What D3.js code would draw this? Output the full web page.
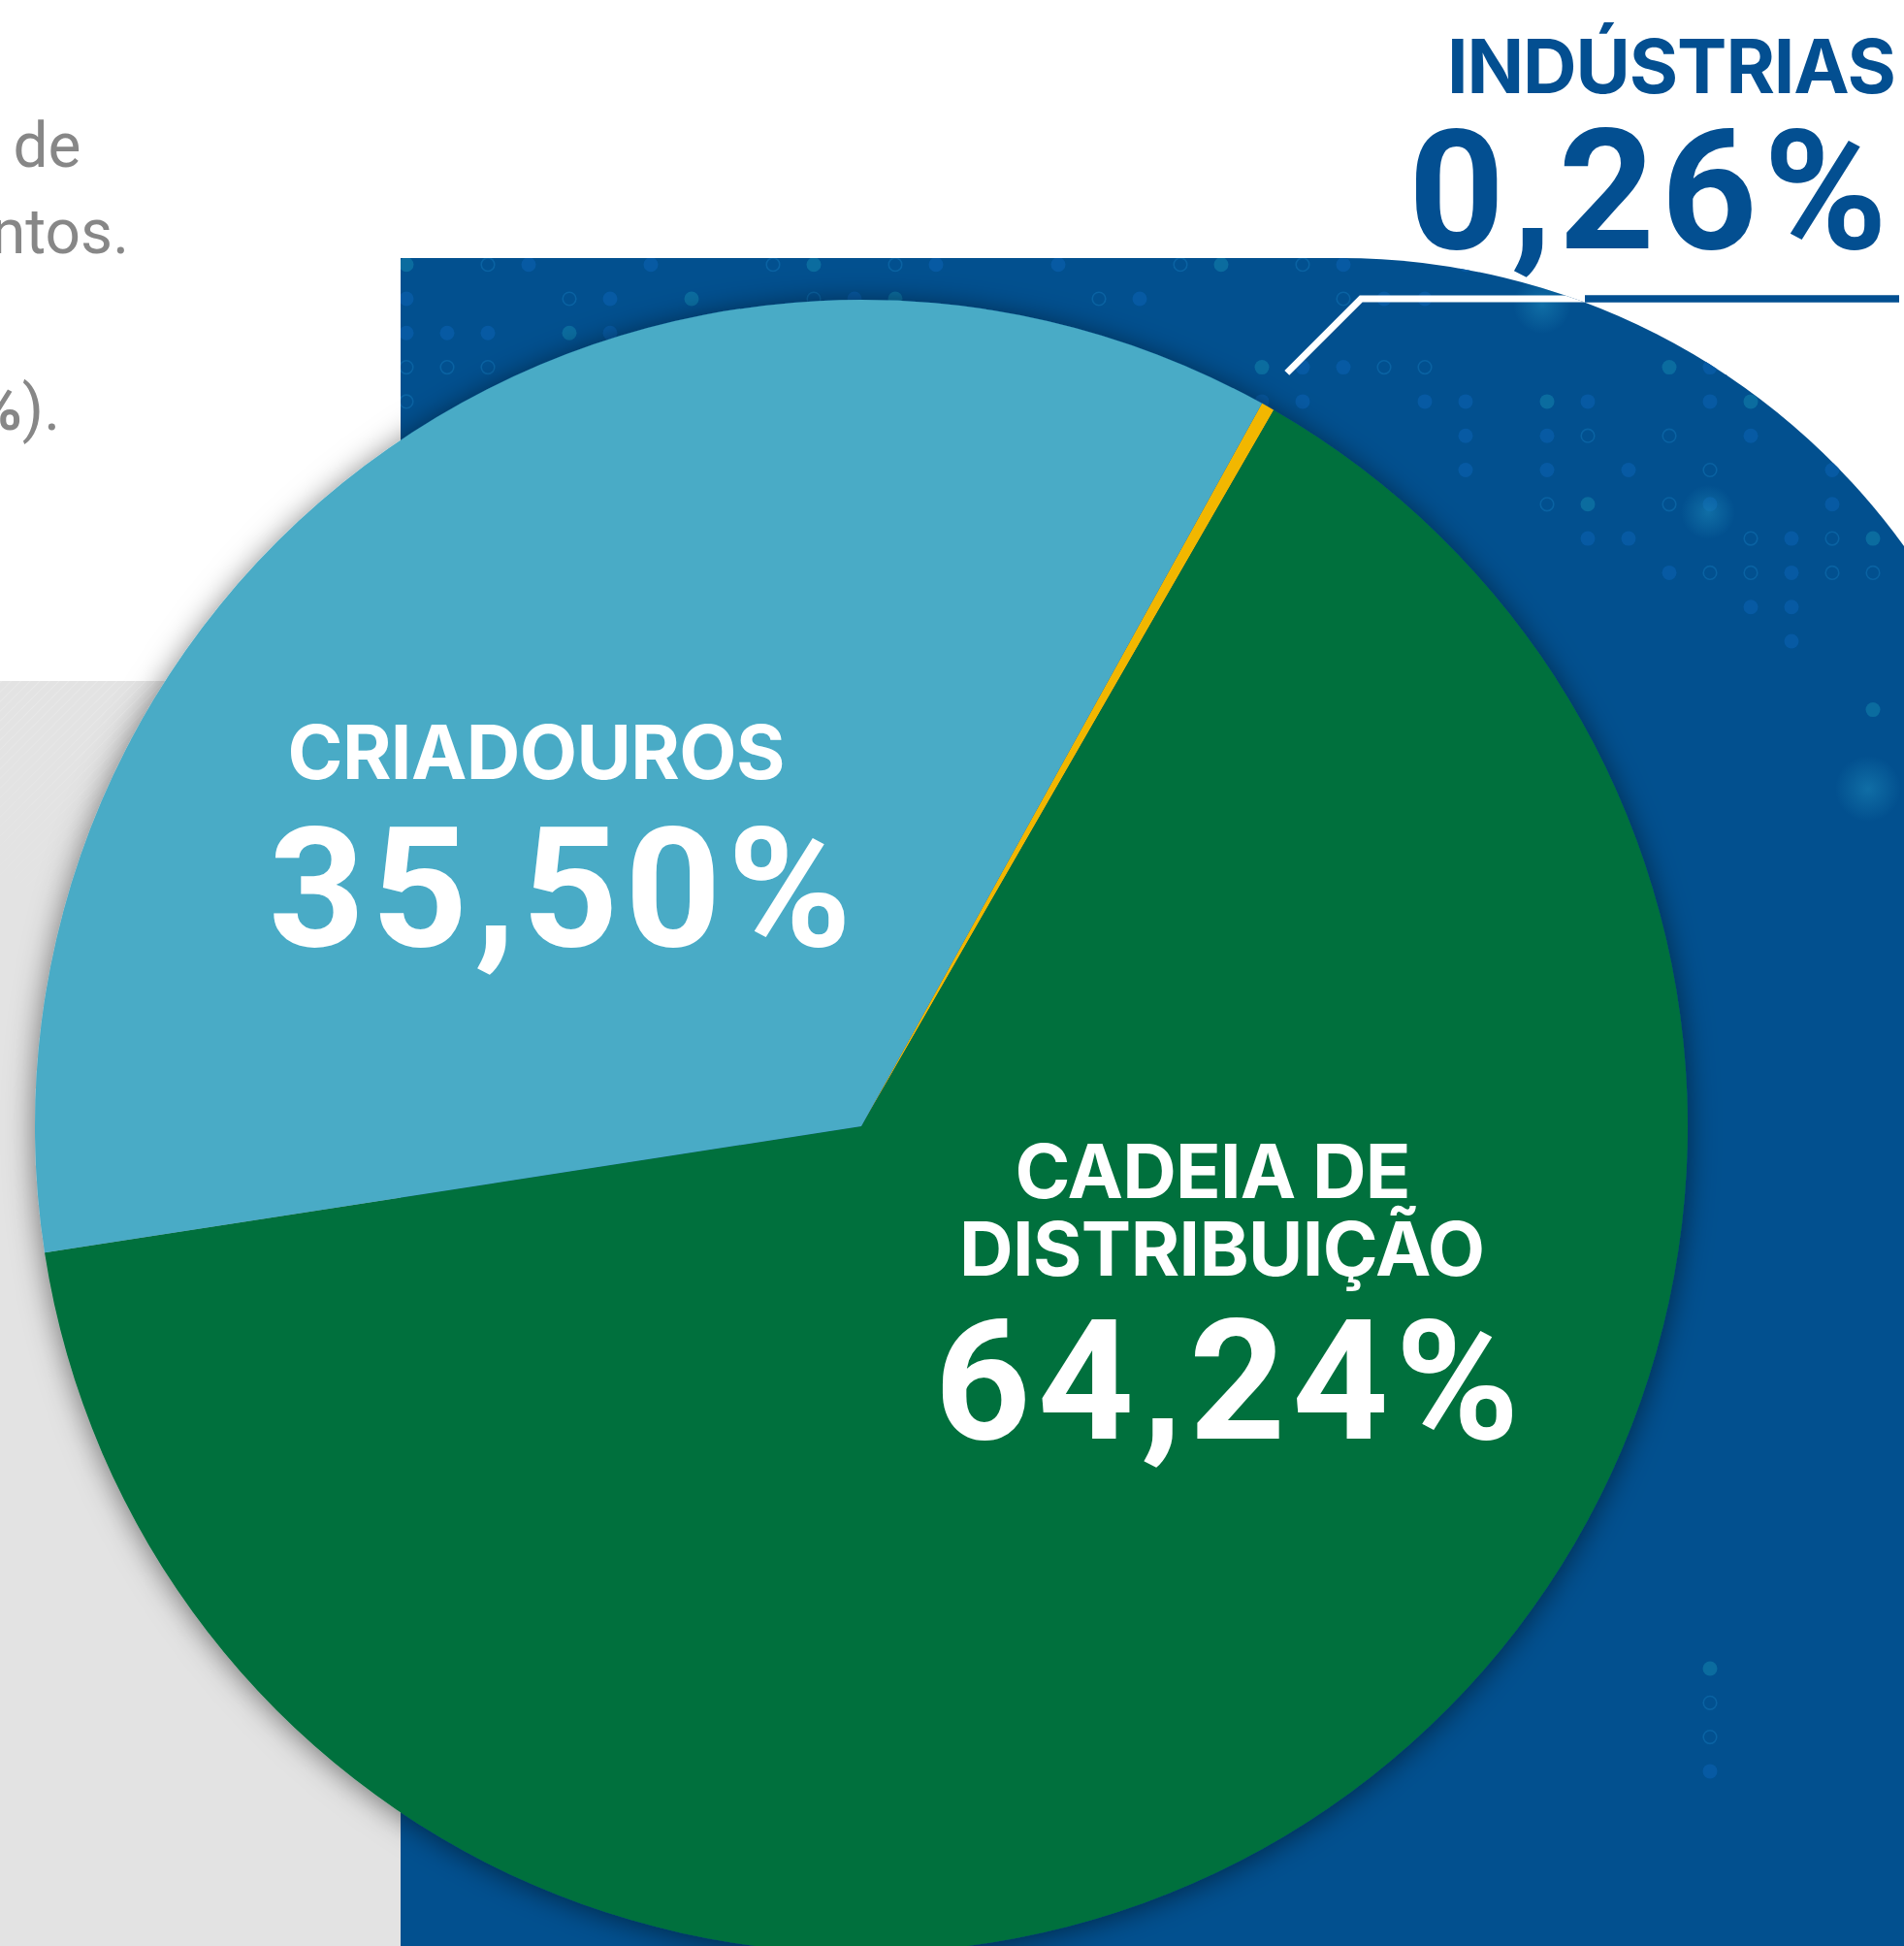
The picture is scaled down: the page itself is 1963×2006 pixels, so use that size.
<!DOCTYPE html>
<html lang="pt-BR">
<head>
<meta charset="utf-8">
<title>Participação por segmento</title>
<script src="https://cdn.jsdelivr.net/npm/d3@7/dist/d3.min.js"></script>
<style>
  html, body { margin: 0; padding: 0; background: #fff; overflow: hidden; }
  svg { display: block; font-family: Roboto, "Noto Sans", sans-serif; }
  .name { font-family: Inter, Roboto, sans-serif; font-weight: 700; }
  .value { font-family: Roboto, "Noto Sans", sans-serif; font-weight: 700; }
</style>
</head>
<body>
<div id="chart"></div>
<script>
// --- data ---
const segments = ["INDÚSTRIAS", "CADEIA DE DISTRIBUIÇÃO", "CRIADOUROS"];
const shares = [0.26, 64.24, 35.50];
const shareLabels = ["0,26%", "64,24%", "35,50%"];
const segmentLines = [["INDÚSTRIAS"], ["CADEIA DE", "DISTRIBUIÇÃO"], ["CRIADOUROS"]];
const sliceColors = ["#f2b705", "#00703d", "#4aabc6"];
// tail ends of the paragraph that is cut off at the left edge
const introFragments = [["de"], ["ntos."], ["%", ")."]];

const width = 1963;
const height = 2006;
const navy = "#034f91";

// pie geometry
const cx = 888, cy = 1161, radius = 852;
const startDeg = 29.0;   // first slice (indústrias) starts here, clockwise from 12 o'clock

// label placement (layout only)
const labelLayout = [
    { anchor: "end", nameX: [1955], nameY: [96], nameW: [463], valX: 1946, valY: 256, valW: 494, fill: navy },
    { anchor: "middle", nameX: [1250.5, 1260], nameY: [1235, 1315], nameW: [408, 542], valX: 1265, valY: 1483, valW: 603, fill: "#fff" },
    { anchor: "middle", nameX: [553], nameY: [803], nameW: [513], valX: 577.5, valY: 975, valW: 601, fill: "#fff" }
];

const svg = d3.select("#chart").append("svg")
    .attr("width", width)
    .attr("height", height);

const defs = svg.append("defs");

// blue panel with big rounded top-right corner
const panelPath = "M413,2006 V266 H1382 A717,717 0 0 1 1963,563 V2006 Z";

defs.append("clipPath").attr("id", "panel-clip")
    .append("path").attr("d", panelPath);

const shadow = defs.append("filter").attr("id", "pie-shadow")
    .attr("x", "-10%").attr("y", "-10%").attr("width", "120%").attr("height", "120%");
shadow.append("feDropShadow")
    .attr("dx", 0).attr("dy", 3)
    .attr("stdDeviation", 15)
    .attr("flood-color", "#000")
    .attr("flood-opacity", 0.5);

const glow = defs.append("radialGradient").attr("id", "glow");
glow.append("stop").attr("offset", "0%").attr("stop-color", "#1b86b8").attr("stop-opacity", 0.55);
glow.append("stop").attr("offset", "100%").attr("stop-color", "#1b86b8").attr("stop-opacity", 0);

const stripes = defs.append("pattern").attr("id", "stripes")
    .attr("width", 7).attr("height", 7)
    .attr("patternUnits", "userSpaceOnUse")
    .attr("patternTransform", "rotate(45)");
stripes.append("line")
    .attr("x1", 0).attr("y1", 0).attr("x2", 0).attr("y2", 7)
    .attr("stroke", "#fff").attr("stroke-width", 1.2).attr("stroke-opacity", 0.35);

const stripeFade = defs.append("linearGradient").attr("id", "stripe-fade")
    .attr("x1", 0).attr("y1", 0).attr("x2", 0).attr("y2", 1);
stripeFade.append("stop").attr("offset", "0%").attr("stop-color", "#fff").attr("stop-opacity", 1);
stripeFade.append("stop").attr("offset", "100%").attr("stop-color", "#fff").attr("stop-opacity", 0);
defs.append("mask").attr("id", "stripe-mask")
    .append("rect").attr("x", 0).attr("y", 702).attr("width", 413).attr("height", 260)
    .attr("fill", "url(#stripe-fade)");

// --- backgrounds ---
svg.append("rect")
    .attr("x", 0).attr("y", 702).attr("width", 413).attr("height", height - 702)
    .attr("fill", "#e3e3e3");
svg.append("rect")
    .attr("x", 0).attr("y", 702).attr("width", 413).attr("height", 260)
    .attr("fill", "url(#stripes)")
    .attr("mask", "url(#stripe-mask)");

svg.append("path").attr("d", panelPath).attr("fill", "#02508f");

// decorative dot grid on the blue panel
const dots = svg.append("g").attr("clip-path", "url(#panel-clip)");
const dotCells = [];
for (let j = 0; j < 15; j++) {
    for (let i = 0; i < 37; i++) {
        const x = 419 + 42 * i;
        const y = 272.7 + 35.3 * j;
        if (x < 1380 && j > 4) continue;
        if (x >= 1380 && j > 4 + Math.floor((x - 1380) / 60)) continue;
        const k = (i * 37 + j * 91 + (i * j) % 7) % 10;
        if (k < 3) dotCells.push({ x, y, kind: "fill", teal: (i + j * 3) % 5 === 0 });
        else if (k < 5) dotCells.push({ x, y, kind: "ring" });
    }
}
[41, 42, 43, 44].forEach((j, n) => {
    dotCells.push({ x: 1763, y: 272.7 + 35.3 * j, kind: n % 3 === 0 ? "fill" : "ring", teal: n === 0 });
});
dots.selectAll("circle")
    .data(dotCells)
    .enter()
    .append("circle")
    .attr("cx", d => d.x)
    .attr("cy", d => d.y)
    .attr("r", d => d.kind === "fill" ? 7.5 : 6.8)
    .attr("fill", d => d.kind === "fill" ? (d.teal ? "#0b6c9f" : "#075aa3") : "none")
    .attr("stroke", d => d.kind === "ring" ? "#0a62a2" : "none")
    .attr("stroke-width", 1.6);
[[1761, 528, 28], [1926, 813, 34], [1590, 314, 30]].forEach(([x, y, r]) => {
    dots.append("circle").attr("cx", x).attr("cy", y).attr("r", r).attr("fill", "url(#glow)");
});

// intro paragraph fragments
const intro = svg.append("g")
    .attr("font-size", 64)
    .attr("fill", "#878787")
    .attr("text-anchor", "end");
const introX = [83.5, 133, 62];
const introY = [172, 261, 443];
introFragments.forEach((parts, n) => {
    const t = intro.append("text").attr("x", introX[n]).attr("y", introY[n]);
    parts.forEach((p, m) => {
        t.append("tspan")
            .attr("font-weight", parts.length > 1 && m === 0 ? 700 : 400)
            .text(p);
    });
});

// --- pie ---
const pie = d3.pie()
    .sort(null)
    .value(d => d)
    .startAngle(startDeg * Math.PI / 180)
    .endAngle(startDeg * Math.PI / 180 + 2 * Math.PI);

const arc = d3.arc()
    .innerRadius(0)
    .outerRadius(radius);

const arcs = pie(shares);

const pieG = svg.append("g")
    .attr("transform", `translate(${cx},${cy})`)
    .attr("filter", "url(#pie-shadow)");

pieG.selectAll("path")
    .data(arcs)
    .enter()
    .append("path")
    .attr("d", arc)
    .attr("fill", (d, i) => sliceColors[i]);

// leader line for the tiny slice
const tiny = arcs[0];
const mid = (tiny.startAngle + tiny.endAngle) / 2;
const lr = radius + 40;
const p0 = [cx + lr * Math.sin(mid), cy - lr * Math.cos(mid)];
const lineY = 308;
const elbow = [p0[0] + (p0[1] - lineY), lineY];
const line = d3.line();

svg.append("path")
    .attr("d", line([[1634, lineY], [1958, lineY]]))
    .attr("stroke", navy)
    .attr("stroke-width", 7.5)
    .attr("fill", "none");
svg.append("path")
    .attr("d", line([p0, elbow, [1958, lineY]]))
    .attr("stroke", "#fff")
    .attr("stroke-width", 7)
    .attr("fill", "none")
    .attr("clip-path", "url(#panel-clip)");

// --- labels ---
const labels = svg.append("g");
arcs.forEach((a, i) => {
    const lay = labelLayout[i];
    segmentLines[i].forEach((txt, n) => {
        labels.append("text")
            .attr("class", "name")
            .attr("x", lay.nameX[n])
            .attr("y", lay.nameY[n])
            .attr("text-anchor", lay.anchor)
            .attr("font-size", 77)
            .attr("fill", lay.fill)
            .attr("textLength", lay.nameW[n])
            .attr("lengthAdjust", "spacing")
            .text(txt);
    });
    labels.append("text")
        .attr("class", "value")
        .attr("x", lay.valX)
        .attr("y", lay.valY)
        .attr("text-anchor", lay.anchor)
        .attr("font-size", 173)
        .attr("fill", lay.fill)
        .attr("textLength", lay.valW)
        .attr("lengthAdjust", "spacing")
        .text(shareLabels[i]);
});
</script>
</body>
</html>
